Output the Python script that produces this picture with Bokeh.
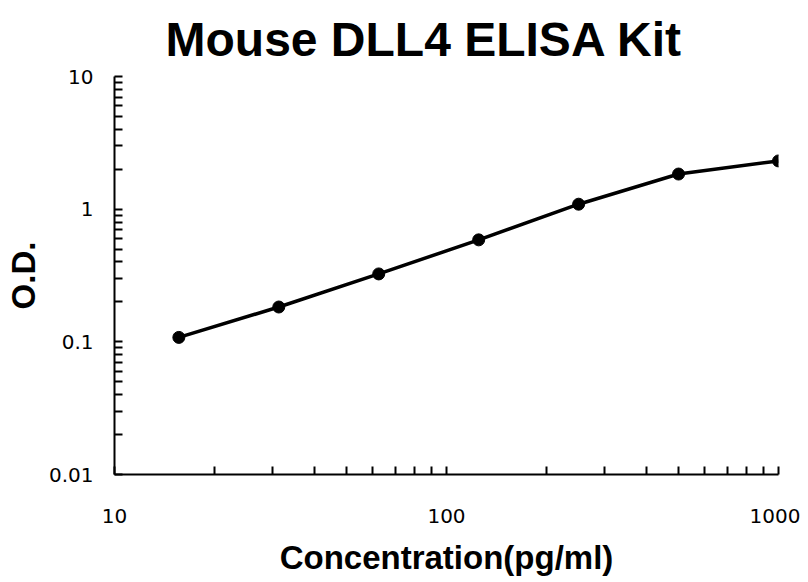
from bokeh.plotting import figure
from bokeh.models import Range1d, FixedTicker, ColumnDataSource
from bokeh.embed import file_html
from bokeh.resources import INLINE

# ---- data ----
concentration = [15.625, 31.25, 62.5, 125, 250, 500, 1000]
od_values = [0.108, 0.183, 0.325, 0.587, 1.09, 1.84, 2.31]

x_ticks = [10, 100, 1000]
x_tick_labels = ["10", "100", "1000"]
y_ticks = [0.01, 0.1, 1, 10]
y_tick_labels = ["0.01", "0.1", "1", "10"]

title_text = "Mouse DLL4 ELISA Kit"
x_label_text = "Concentration(pg/ml)"
y_label_text = "O.D."

# ---- figure ----
W, H = 800, 582
p = figure(width=W, height=H, x_axis_type="log", y_axis_type="log",
           x_range=Range1d(10, 1000), y_range=Range1d(0.01, 10),
           output_backend="svg", toolbar_location=None,
           min_border_left=114, min_border_right=W - 778,
           min_border_top=76, min_border_bottom=H - 474)
p.outline_line_color = None
p.xgrid.visible = False
p.ygrid.visible = False
p.background_fill_color = "white"
p.border_fill_color = "white"

p.title.text = title_text
p.title.text_font = "Liberation Sans"
p.title.text_font_style = "bold"
p.title.text_font_size = "48px"
p.title.text_color = "black"
p.title.align = "left"
p.title.offset = 51
p.title.standoff = 21

x_minor = [m * d for d in [10, 100] for m in range(2, 10)]
y_minor = [m * d for d in [0.01, 0.1, 1] for m in range(2, 10)]
p.xaxis.ticker = FixedTicker(ticks=x_ticks, minor_ticks=x_minor)
p.yaxis.ticker = FixedTicker(ticks=y_ticks, minor_ticks=y_minor)
p.xaxis.major_label_overrides = {t: s for t, s in zip(x_ticks, x_tick_labels)}
p.yaxis.major_label_overrides = {t: s for t, s in zip(y_ticks, y_tick_labels)}

for ax in (p.xaxis, p.yaxis):
    ax.axis_line_color = "black"
    ax.axis_line_width = 2
    ax.major_tick_line_color = "black"
    ax.minor_tick_line_color = "black"
    ax.major_tick_line_width = 2
    ax.minor_tick_line_width = 2
    ax.major_tick_in = 8
    ax.major_tick_out = 0
    ax.minor_tick_in = 8
    ax.minor_tick_out = 0
    ax.major_label_text_font = "DejaVu Sans"
    ax.major_label_text_font_size = "20px"
    ax.major_label_text_color = "black"
    ax.axis_label_text_font = "Liberation Sans"
    ax.axis_label_text_font_style = "bold"
    ax.axis_label_text_font_size = "33px"
    ax.axis_label_text_color = "black"
p.xaxis.major_label_standoff = 34
p.yaxis.major_label_standoff = 21
p.xaxis.axis_label = x_label_text
p.yaxis.axis_label = y_label_text
p.xaxis.axis_label_standoff = 13
p.yaxis.axis_label_standoff = 4

src = ColumnDataSource(dict(x=concentration, y=od_values))
p.line("x", "y", source=src, line_color="black", line_width=3.5)
p.scatter("x", "y", source=src, size=12, color="black")

open("out.html", "w").write(file_html(p, INLINE))
